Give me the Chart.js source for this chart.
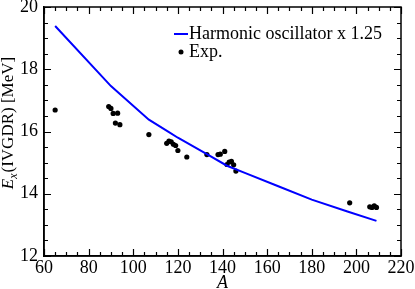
<!DOCTYPE html>
<html>
<head>
<meta charset="utf-8">
<script src="https://cdn.jsdelivr.net/npm/chart.js@4.4.1/dist/chart.umd.min.js"></script>
<style>
  html, body { margin: 0; padding: 0; background: #fff; }
  #wrap { width: 415px; height: 289px; }
</style>
</head>
<body>
<div id="wrap"><canvas id="ivgdrChart" width="415" height="289"></canvas></div>
<script>
// harmonic oscillator x 1.25 curve
const hoA = [65, 90, 107, 116, 120, 133, 142, 150, 165, 180, 196, 209];
const hoE = [19.39, 17.46, 16.38, 15.98, 15.8, 15.27, 14.9, 14.67, 14.24, 13.81, 13.43, 13.13];

// experimental points
const expA = [65, 89, 90, 91, 93, 92, 94, 107, 115, 116, 117, 118, 119, 120, 124, 133, 138, 139, 141, 142, 143, 144, 145, 146, 197, 206, 207, 208, 209];
const expE = [16.69, 16.80, 16.74, 16.58, 16.59, 16.27, 16.22, 15.90, 15.62, 15.69, 15.67, 15.59, 15.55, 15.39, 15.18, 15.26, 15.26, 15.27, 15.36, 14.94, 15.02, 15.04, 14.93, 14.73, 13.71, 13.58, 13.56, 13.61, 13.56];

const xTicks = [60, 80, 100, 120, 140, 160, 180, 200, 220];
const yTicks = [12, 14, 16, 18, 20];
const seriesLabels = ['Harmonic oscillator x 1.25', 'Exp.'];

const FONT = '"Liberation Serif", "Times New Roman", serif';
const BLUE = '#0000ff';

const framePlugin = {
    id: 'boxFrame',
    afterDraw(chart) {
        const ctx = chart.ctx;
        const a = chart.chartArea;
        const xs = chart.scales.x, ys = chart.scales.y;
        ctx.save();
        ctx.strokeStyle = '#000';
        ctx.lineWidth = 1.5;
        ctx.strokeRect(a.left, a.top, a.right - a.left, a.bottom - a.top);

        // inward ticks on all sides
        ctx.lineWidth = 1.2;
        ctx.beginPath();
        for (let v = xTicks[0]; v <= xTicks[xTicks.length - 1]; v += 5) {
            const px = Math.round(xs.getPixelForValue(v)) + 0.5;
            const len = v % 20 === 0 ? 7 : 4;
            ctx.moveTo(px, a.bottom); ctx.lineTo(px, a.bottom - len);
            ctx.moveTo(px, a.top); ctx.lineTo(px, a.top + len);
        }
        for (let v = yTicks[0]; v <= yTicks[yTicks.length - 1]; v += 0.5) {
            const py = Math.round(ys.getPixelForValue(v)) + 0.5;
            const len = v % 2 === 0 ? 7 : 4;
            ctx.moveTo(a.left, py); ctx.lineTo(a.left + len, py);
            ctx.moveTo(a.right, py); ctx.lineTo(a.right - len, py);
        }
        ctx.stroke();

        // legend
        ctx.fillStyle = '#000';
        ctx.font = '18px ' + FONT;
        ctx.textBaseline = 'middle';
        ctx.textAlign = 'left';
        const lx = a.left + 130, ly1 = a.top + 27, ly2 = a.top + 45;
        ctx.strokeStyle = BLUE;
        ctx.lineWidth = 2;
        ctx.beginPath();
        ctx.moveTo(lx, ly1); ctx.lineTo(lx + 14, ly1);
        ctx.stroke();
        ctx.fillText(seriesLabels[0], lx + 15, ly1);
        ctx.beginPath();
        ctx.arc(lx + 7, ly2, 2.5, 0, Math.PI * 2);
        ctx.fill();
        ctx.fillText(seriesLabels[1], lx + 15, ly2);

        // x title
        ctx.font = 'italic 18px ' + FONT;
        ctx.textAlign = 'center';
        ctx.fillText('A', (a.left + a.right) / 2, a.bottom + 27);

        // y title with subscript
        ctx.translate(9, (a.top + a.bottom) / 2 - 8);
        ctx.rotate(-Math.PI / 2);
        ctx.textAlign = 'left';
        const partE = 'E', partX = 'x', rest = '(IVGDR) [MeV]';
        ctx.font = 'italic 17px ' + FONT;
        const wE = ctx.measureText(partE).width;
        ctx.font = 'italic 12px ' + FONT;
        const wX = ctx.measureText(partX).width;
        ctx.font = '17px ' + FONT;
        const wR = ctx.measureText(rest).width;
        const x0 = -(wE + wX + wR) / 2;
        ctx.font = 'italic 17px ' + FONT;
        ctx.fillText(partE, x0, 0);
        ctx.font = 'italic 12px ' + FONT;
        ctx.fillText(partX, x0 + wE, 5);
        ctx.font = '17px ' + FONT;
        ctx.fillText(rest, x0 + wE + wX + 1, 0);
        ctx.restore();
    }
};

new Chart(document.getElementById('ivgdrChart'), {
    type: 'scatter',
    data: {
        datasets: [{
            label: seriesLabels[0],
            data: hoA.map((a, i) => ({ x: a, y: hoE[i] })),
            showLine: true,
            borderColor: BLUE,
            borderWidth: 2,
            pointRadius: 0,
            tension: 0
        }, {
            label: seriesLabels[1],
            data: expA.map((a, i) => ({ x: a, y: expE[i] })),
            backgroundColor: '#000',
            borderColor: '#000',
            pointRadius: 2.6,
            borderWidth: 0
        }]
    },
    options: {
        responsive: false,
        animation: false,
        devicePixelRatio: 1,
        layout: { padding: { left: 0, top: 7, right: 14, bottom: 0 } },
        plugins: { legend: { display: false }, tooltip: { enabled: false } },
        scales: {
            x: {
                type: 'linear', min: 60, max: 220,
                grid: { drawOnChartArea: false, drawTicks: false, color: '#000' },
                border: { display: true, color: '#000', width: 1.5 },
                afterBuildTicks: (s) => { s.ticks = xTicks.map(v => ({ value: v })); },
                ticks: { color: '#000', font: { family: FONT, size: 18 }, padding: 1, maxRotation: 0 },
                afterFit: (s) => { s.height = 33; s.paddingLeft = 0; s.paddingRight = 0; }
            },
            y: {
                type: 'linear', min: 12, max: 20,
                grid: { drawOnChartArea: false, drawTicks: false, color: '#000' },
                border: { display: true, color: '#000', width: 1.5 },
                afterBuildTicks: (s) => { s.ticks = yTicks.map(v => ({ value: v })); },
                ticks: { color: '#000', font: { family: FONT, size: 18 }, padding: 6 },
                afterFit: (s) => { s.width = 44; s.paddingTop = 0; s.paddingBottom = 0; }
            }
        }
    },
    plugins: [framePlugin]
});
</script>
</body>
</html>
